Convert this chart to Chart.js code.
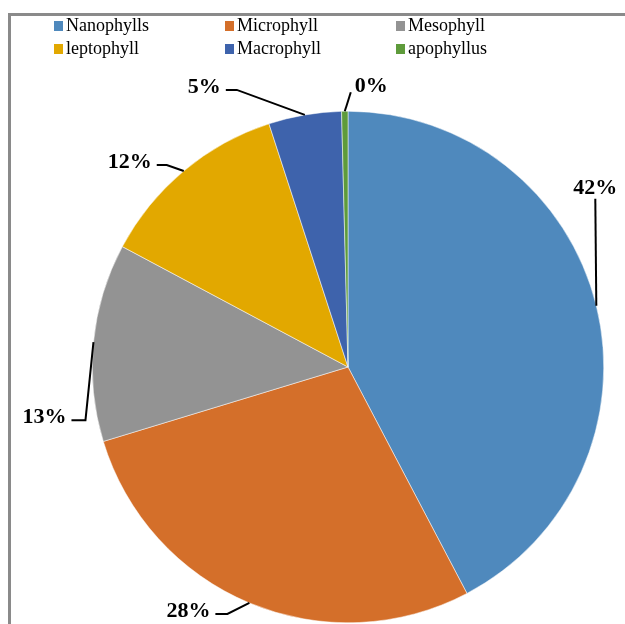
<!DOCTYPE html>
<html>
<head>
<meta charset="utf-8">
<script src="https://cdn.jsdelivr.net/npm/chart.js@4"></script>
<style>
  html, body { margin: 0; padding: 0; background: #fff; }
  #wrap { width: 625px; height: 624px; position: relative; }
</style>
</head>
<body>
<div id="wrap"><canvas id="leafChart" width="625" height="624"></canvas></div>
<script>
// leaf size classes (share of species, %)
const categories = ['Nanophylls', 'Microphyll', 'Mesophyll', 'leptophyll', 'Macrophyll', 'apophyllus'];
const shares = [42.3, 28.0, 12.5, 12.2, 4.6, 0.4];
const sliceColors = ['#4F89BD', '#D46F2A', '#939393', '#E2A800', '#3E63AC', '#5E9B3B'];

// where each label sits relative to the edge of its slice (leader line elbow)
const labelLayout = [
    { dx: -1, dy: -107, tail: 0, pos: 'above' },
    { dx: -22, dy: 11, tail: 12, pos: 'left' },
    { dx: -8, dy: 78, tail: 14, pos: 'left' },
    { dx: -17, dy: -6, tail: 10, pos: 'left' },
    { dx: -68, dy: -25, tail: 11, pos: 'left' },
    { dx: 6, dy: -19, tail: 0, pos: 'right' }
];

const frame = {
    id: 'frame',
    beforeDraw(chart) {
        const ctx = chart.ctx;
        ctx.save();
        ctx.fillStyle = '#8a8a8a';
        ctx.fillRect(8, 13, 3, chart.height);
        ctx.fillRect(8, 13, chart.width, 3);
        ctx.restore();
    }
};

const legendGrid = {
    id: 'legendGrid',
    afterDraw(chart) {
        const ctx = chart.ctx;
        const colX = [54, 225, 396];
        const rowY = [26, 49];
        ctx.save();
        ctx.font = '18px "Liberation Serif"';
        ctx.textBaseline = 'middle';
        categories.forEach(function(name, i) {
            const x = colX[i % 3];
            const y = rowY[Math.floor(i / 3)];
            ctx.fillStyle = sliceColors[i];
            ctx.fillRect(x, y - 5, 9, 10);
            ctx.fillStyle = '#000';
            ctx.fillText(name, x + 12, y);
        });
        ctx.restore();
    }
};

const leaderLabels = {
    id: 'leaderLabels',
    afterDatasetsDraw(chart) {
        const ctx = chart.ctx;
        const arcs = chart.getDatasetMeta(0).data;
        ctx.save();
        ctx.font = 'bold 22px "Liberation Serif"';
        ctx.strokeStyle = '#000';
        ctx.lineWidth = 2;
        ctx.fillStyle = '#000';
        arcs.forEach(function(arc, i) {
            const mid = (arc.startAngle + arc.endAngle) / 2;
            const ex = arc.x + Math.cos(mid) * arc.outerRadius;
            const ey = arc.y + Math.sin(mid) * arc.outerRadius;
            const lay = labelLayout[i];
            const bx = ex + lay.dx;
            const by = ey + lay.dy;
            const text = Math.round(shares[i]) + '%';
            ctx.beginPath();
            ctx.moveTo(ex, ey);
            ctx.lineTo(bx, by);
            if (lay.tail) ctx.lineTo(bx - lay.tail, by);
            ctx.stroke();
            ctx.textBaseline = 'alphabetic';
            if (lay.pos === 'above') {
                ctx.textAlign = 'center';
                ctx.fillText(text, bx, by - 5);
            } else if (lay.pos === 'left') {
                ctx.textAlign = 'right';
                ctx.fillText(text, bx - lay.tail - 5, by + 3);
            } else {
                ctx.textAlign = 'left';
                ctx.fillText(text, bx + 4, by);
            }
        });
        ctx.restore();
    }
};

const ctx = document.getElementById('leafChart').getContext('2d');
const leafChart = new Chart(ctx, {
    type: 'pie',
    data: {
        labels: categories,
        datasets: [{
            data: shares,
            backgroundColor: sliceColors,
            borderColor: '#ffffff',
            borderWidth: 0.5
        }]
    },
    options: {
        responsive: false,
        animation: false,
        layout: {
            padding: { left: 92, right: 21, top: 111, bottom: 1 }
        },
        plugins: {
            legend: { display: false },
            tooltip: { enabled: false }
        }
    },
    plugins: [frame, legendGrid, leaderLabels]
});
</script>
</body>
</html>
